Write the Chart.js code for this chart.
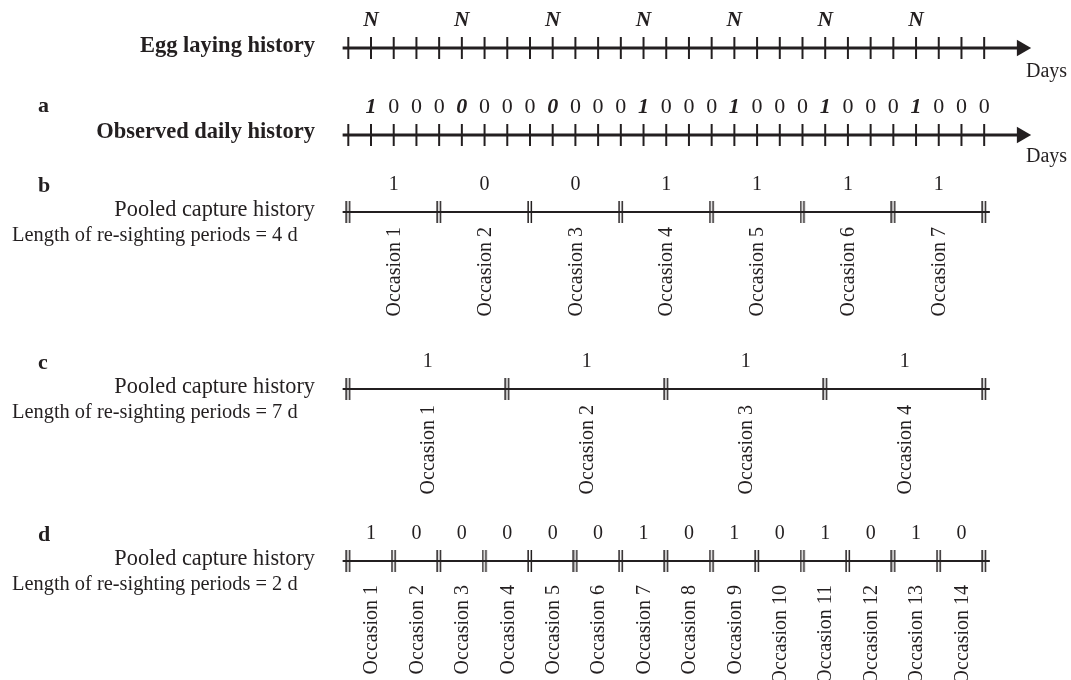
<!DOCTYPE html>
<html>
<head>
<meta charset="utf-8">
<script src="https://cdn.jsdelivr.net/npm/chart.js@4.4.0/dist/chart.umd.min.js"></script>
<style>
  html, body { margin: 0; padding: 0; background: #fff; }
  #wrap { width: 1071px; height: 680px; }
</style>
</head>
<body>
<div id="wrap"><canvas id="diagram" width="1071" height="680"></canvas></div>
<script>
// day ticks on the daily axes (day 0 .. day 28)
const dayTicks = [0, 1, 2, 3, 4, 5, 6, 7, 8, 9, 10, 11, 12, 13, 14, 15, 16, 17, 18, 19, 20, 21, 22, 23, 24, 25, 26, 27, 28];
// days an egg was laid (the N marks)
const layingDays = [1, 5, 9, 13, 17, 21, 25];
// observed daily history, day 1 .. day 28
const dailyHistory = [1, 0, 0, 0, 0, 0, 0, 0, 0, 0, 0, 0, 1, 0, 0, 0, 1, 0, 0, 0, 1, 0, 0, 0, 1, 0, 0, 0];
// pooled capture histories
const pooled4 = [1, 0, 0, 1, 1, 1, 1];
const pooled7 = [1, 1, 1, 1];
const pooled2 = [1, 0, 0, 0, 0, 0, 1, 0, 1, 0, 1, 0, 1, 0];

const ink = '#231f20';
const serif = '"Liberation Serif", "Times New Roman", serif';

// rows (y scale runs 0..680 top to bottom)
const row = { egg: 48, obs: 135, b: 212, c: 389, d: 561 };

const panels = [
    { key: 'b', values: pooled4, len: 4, occGap: 15 },
    { key: 'c', values: pooled7, len: 7, occGap: 16 },
    { key: 'd', values: pooled2, len: 2, occGap: 24 }
];

function doubleBar() {
    const c = document.createElement('canvas');
    c.width = 6; c.height = 22;
    const g = c.getContext('2d');
    g.fillStyle = ink;
    g.fillRect(0.4, 0, 1.5, 22);
    g.fillRect(3.6, 0, 1.5, 22);
    return c;
}
const barMark = doubleBar();

function axisLine(y, from, to, width) {
    return { data: [{ x: from, y: y }, { x: to, y: y }], showLine: true, borderColor: ink,
        borderWidth: width, pointRadius: 0 };
}
function tickMarks(y) {
    return { data: dayTicks.map(d => ({ x: d, y: y })), pointStyle: 'line', pointRotation: 90,
        pointRadius: 11, pointBorderWidth: 2, pointBorderColor: ink };
}
function arrowHead(y) {
    return { data: [{ x: 29.65, y: y }], pointStyle: 'triangle', pointRotation: 90,
        pointRadius: 9.5, pointBackgroundColor: ink, pointBorderWidth: 0 };
}

const datasets = [
    axisLine(row.egg, -0.25, 29.8, 3), tickMarks(row.egg), arrowHead(row.egg),
    axisLine(row.obs, -0.25, 29.8, 3), tickMarks(row.obs), arrowHead(row.obs)
];
panels.forEach(p => {
    datasets.push(axisLine(row[p.key], -0.25, 28.25, 2));
    const bounds = [];
    for (let i = 0; i <= p.values.length; i++) bounds.push({ x: i * p.len, y: row[p.key] });
    datasets.push({ data: bounds, pointStyle: barMark, pointRadius: 3 });
});

function text(ctx, s, x, y, font, align) {
    ctx.font = font;
    ctx.textAlign = align || 'center';
    ctx.textBaseline = 'alphabetic';
    ctx.fillText(s, x, y);
}

const labelPlugin = {
    id: 'diagramText',
    afterDatasetsDraw(chart) {
        const ctx = chart.ctx;
        const xs = chart.scales.x;
        ctx.save();
        ctx.fillStyle = ink;

        // egg laying history
        text(ctx, 'Egg laying history', 315, row.egg + 4, 'bold 22.5px ' + serif, 'right');
        layingDays.forEach(d => text(ctx, 'N', xs.getPixelForValue(d), row.egg - 22, 'bold italic 21.5px ' + serif));
        text(ctx, 'Days', 1026, row.egg + 29, '20px ' + serif, 'left');

        // observed daily history
        text(ctx, 'a', 38, row.obs - 23, 'bold 22px ' + serif, 'left');
        text(ctx, 'Observed daily history', 315, row.obs + 3, 'bold 22.5px ' + serif, 'right');
        dailyHistory.forEach((v, i) => {
            const day = i + 1;
            const f = layingDays.includes(day) ? 'bold italic 22px ' : '22px ';
            text(ctx, String(v), xs.getPixelForValue(day), row.obs - 22, f + serif);
        });
        text(ctx, 'Days', 1026, row.obs + 27, '20px ' + serif, 'left');

        // pooled panels
        panels.forEach(p => {
            const y = row[p.key];
            text(ctx, p.key, 38, y - 20, 'bold 22px ' + serif, 'left');
            text(ctx, 'Pooled capture history', 315, y + 4, '22.3px ' + serif, 'right');
            text(ctx, 'Length of re-sighting periods = ' + p.len + ' d', 12, y + 29, '20.4px ' + serif, 'left');
            p.values.forEach((v, i) => {
                const mid = xs.getPixelForValue(i * p.len + p.len / 2);
                text(ctx, String(v), mid, y - 22, '20px ' + serif);
                ctx.save();
                ctx.translate(mid + 1, y + p.occGap);
                ctx.rotate(-Math.PI / 2);
                ctx.font = '20px ' + serif;
                ctx.textAlign = 'right';
                ctx.textBaseline = 'middle';
                ctx.fillText('Occasion ' + (i + 1), 0, 0);
                ctx.restore();
            });
        });
        ctx.restore();
    }
};

new Chart(document.getElementById('diagram'), {
    type: 'scatter',
    data: { datasets: datasets },
    options: {
        responsive: false,
        animation: false,
        events: [],
        layout: { padding: 0, autoPadding: false },
        plugins: { legend: { display: false }, tooltip: { enabled: false } },
        scales: {
            x: { type: 'linear', display: false, min: -15.337, max: 31.823 },
            y: { type: 'linear', display: false, min: 0, max: 680, reverse: true }
        }
    },
    plugins: [labelPlugin]
});
</script>
</body>
</html>
